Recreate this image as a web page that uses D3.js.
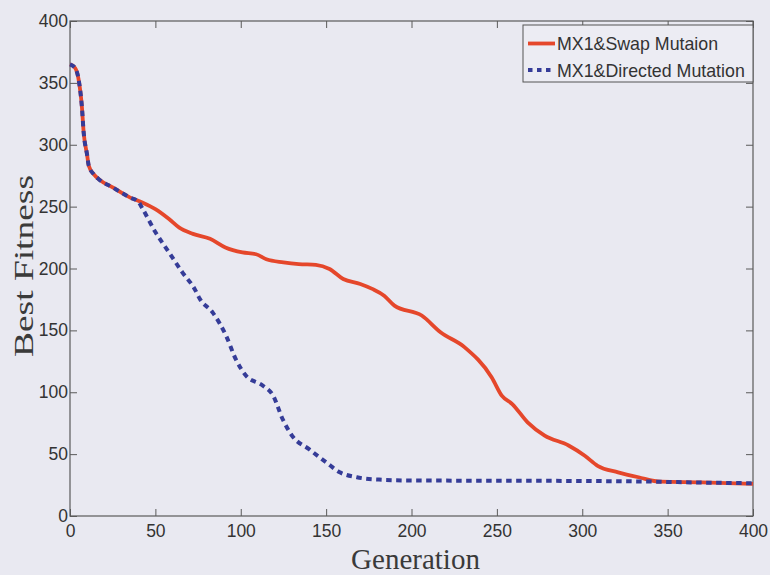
<!DOCTYPE html>
<html>
<head>
<meta charset="utf-8">
<script src="https://cdn.jsdelivr.net/npm/d3@7"></script>
<style>
  html, body { margin: 0; padding: 0; background: #e9e9f1; }
  svg { display: block; }
</style>
</head>
<body>
<svg id="chart" width="770" height="575"></svg>
<script>
// ---- data ----
const seriesNames = ["MX1&Swap Mutaion", "MX1&Directed Mutation"];

const swapGen = [0, 3, 5, 7, 8, 10, 11, 14, 17, 25, 35, 42, 50, 58, 64, 72, 82, 91, 101, 109, 115, 125, 134, 144, 152, 160, 170, 177, 184, 190, 206, 217, 231, 247, 253, 259, 268, 278, 292, 301.5, 309, 321, 333, 346, 370, 400];
const swapFit = [365, 362, 353, 330, 310, 292, 283, 276, 272, 265.5, 257.5, 253.5, 248, 240, 233, 228, 224, 217, 213, 211.5, 207.5, 205, 203.6, 203, 199.6, 191.5, 187.5, 183.5, 178, 170, 162, 148.5, 136.5, 112, 97, 90.5, 75.7, 65, 57, 48.7, 40.6, 35.3, 31.3, 27.7, 27.2, 26];

const directedGen = [0, 3, 5, 7, 8, 10, 11, 14, 17, 25, 35, 40, 42, 50, 58, 66, 73, 76, 83.5, 91.4, 97, 103, 113, 119, 124.5, 130, 140, 150, 158, 168, 181, 200, 250, 300, 340, 370, 400];
const directedFit = [365, 362, 353, 330, 310, 292, 283, 276, 272, 265.5, 257.5, 254, 249.5, 229.5, 213, 196.5, 183.5, 175.5, 164.5, 145.7, 127, 113.5, 105.3, 97.2, 78.4, 65, 54, 43.4, 35.3, 31.3, 29.4, 28.7, 28.5, 28.3, 27.8, 27, 26.5];

const xTicks = [0, 50, 100, 150, 200, 250, 300, 350, 400];
const yTicks = [0, 50, 100, 150, 200, 250, 300, 350, 400];
const xLabel = "Generation";
const yLabel = "Best Fitness";

// ---- layout ----
const L = 70, R = 753, T = 21, B = 516;
const svg = d3.select("#chart");
const x = d3.scaleLinear().domain([0, 400]).range([L, R]);
const y = d3.scaleLinear().domain([0, 400]).range([B, T]);

const axisColor = "#5a5a5a";
const tickFont = "'Liberation Sans', Arial, Helvetica, sans-serif";

function styleAxis(g) {
  g.select(".domain").remove();
  g.selectAll(".tick line").attr("stroke", axisColor).attr("stroke-width", 1);
  g.selectAll(".tick text").attr("fill", "#333").style("font-family", tickFont).style("font-size", "17.5px");
}

svg.append("g").attr("transform", `translate(0,${B})`)
  .call(d3.axisBottom(x).tickValues(xTicks).tickSize(-7).tickPadding(9).tickFormat(d3.format("d")))
  .call(styleAxis);
svg.append("g").attr("transform", `translate(0,${T})`)
  .call(d3.axisTop(x).tickValues(xTicks).tickSize(-7).tickFormat(""))
  .call(styleAxis);
svg.append("g").attr("transform", `translate(${L},0)`)
  .call(d3.axisLeft(y).tickValues(yTicks).tickSize(-7).tickPadding(2).tickFormat(d3.format("d")))
  .call(styleAxis);
svg.append("g").attr("transform", `translate(${R},0)`)
  .call(d3.axisRight(y).tickValues(yTicks).tickSize(-7).tickFormat(""))
  .call(styleAxis);

// frame
svg.append("rect").attr("x", L).attr("y", T).attr("width", R - L).attr("height", B - T)
  .attr("fill", "none").attr("stroke", axisColor).attr("stroke-width", 1.2);

// lines
const line = d3.line().x(d => x(d[0])).y(d => y(d[1])).curve(d3.curveMonotoneX);
const swapData = swapGen.map((g, i) => [g, swapFit[i]]);
const dirData = directedGen.map((g, i) => [g, directedFit[i]]);

const red = "#e5472b", blue = "#353c98";

svg.append("path").datum(swapData).attr("d", line)
  .attr("fill", "none").attr("stroke", red).attr("stroke-width", 3.8).attr("stroke-linejoin", "round");
svg.append("path").datum(dirData).attr("d", line)
  .attr("fill", "none").attr("stroke", blue).attr("stroke-width", 4)
  .attr("stroke-dasharray", "5.5,4.5").attr("stroke-linecap", "butt");

// axis labels
svg.append("text").attr("x", (L + R) / 2 + 4).attr("y", 569).attr("text-anchor", "middle")
  .style("font-family", "'Liberation Serif', 'Times New Roman', serif").style("font-size", "29px")
  .attr("fill", "#3a3a3a").text(xLabel);
svg.append("text").attr("transform", `translate(33,266) rotate(-90)`).attr("text-anchor", "middle")
  .style("font-family", "'Liberation Serif', 'Times New Roman', serif").style("font-size", "27px")
  .attr("textLength", 182).attr("lengthAdjust", "spacingAndGlyphs")
  .attr("fill", "#3a3a3a").text(yLabel);

// legend
const lg = svg.append("g");
lg.append("rect").attr("x", 523).attr("y", 25).attr("width", 230).attr("height", 57)
  .attr("fill", "#ececf3").attr("stroke", "#555").attr("stroke-width", 1);
const legendRows = [
  { name: seriesNames[0], color: red, dash: null, w: 3.8, yy: 43.5 },
  { name: seriesNames[1], color: blue, dash: "4.5,4.5", w: 4, yy: 70 }
];
legendRows.forEach(r => {
  const ln = lg.append("line").attr("x1", 528).attr("x2", 555).attr("y1", r.yy).attr("y2", r.yy)
    .attr("stroke", r.color).attr("stroke-width", r.w);
  if (r.dash) ln.attr("stroke-dasharray", r.dash);
  lg.append("text").attr("x", 557).attr("y", r.yy + 6.5)
    .style("font-family", tickFont).style("font-size", "17.8px").attr("fill", "#333").text(r.name);
});
</script>
</body>
</html>
